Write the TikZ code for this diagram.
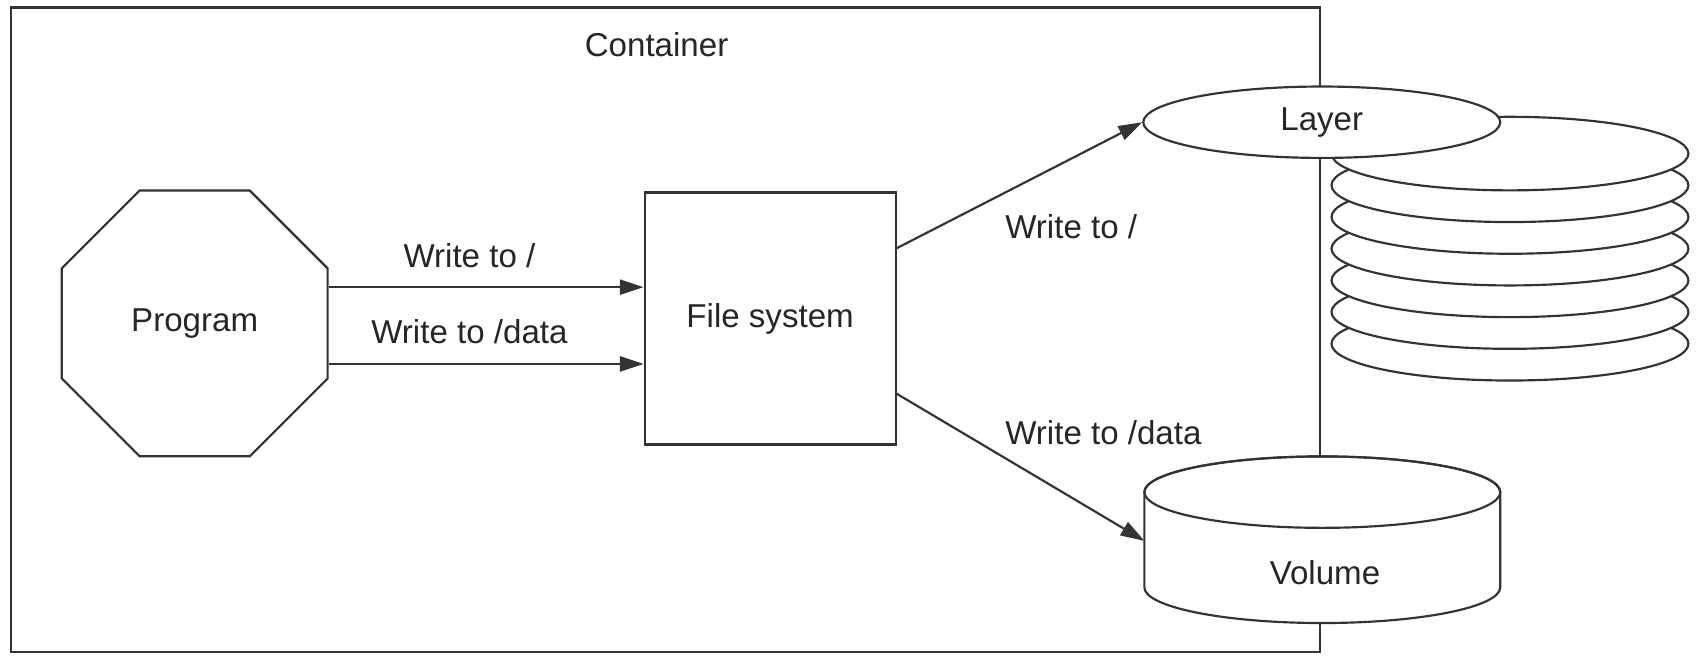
\documentclass[tikz,border=0pt]{standalone}
\usepackage{fontspec}
\setmainfont{Liberation Sans}
\usetikzlibrary{shapes.geometric,arrows.meta}
\begin{document}
\begin{tikzpicture}[x=0.5pt,y=-0.5pt,
  every node/.style={font=\fontsize{15.3}{18}\selectfont, text=black!85},
  line/.style={draw=black!80, line width=1pt},
  arr/.style={line, -{Triangle[length=11pt,width=7pt]}},
  shapebox/.style={line, fill=white, inner sep=0pt}]
\useasboundingbox (0,0) rectangle (1568,609.3);
\fill[white] (0,0) rectangle (1568,609.3);
% container
\draw[line] (10,7) rectangle (1220,603);
\node (cont) at (607,41) {Container};
% program
\node[shapebox, regular polygon, regular polygon sides=8, minimum size=133pt] (prog) at (180,299) {Program};
% file system
\node[shapebox, rectangle, minimum width=116pt, minimum height=116.5pt] (fs) at (712,294.5) {File system};
% layer stack
\foreach \k in {6,5,...,1,0}{
  \draw[line, fill=white] (1396,142+29.3*\k) ellipse [x radius=82.5pt, y radius=17pt];
}
\node[shapebox, ellipse, minimum width=165pt, minimum height=33pt] (layer) at (1222,113) {Layer};
% volume
\draw[line, fill=white] (1058,455) -- (1058,543)
   arc[start angle=180, end angle=360, x radius=82.25pt, y radius=16.5pt]
   -- (1387,455) arc[start angle=0, end angle=180, x radius=82.25pt, y radius=16.5pt] -- cycle;
\draw[line] (1222.5,455) ellipse [x radius=82.25pt, y radius=16.5pt];
\node (vol) at (1225,529) {Volume};
\coordinate (volw) at (1058,500);
% connectors
\coordinate (r1) at (0,265.5);
\coordinate (r2) at (0,336.5);
\coordinate (q1) at (0,229.5);
\coordinate (q2) at (0,364);
\draw[arr] (prog.east |- r1) -- (fs.west |- r1);
\draw[arr] (prog.east |- r2) -- (fs.west |- r2);
\draw[arr] (fs.east |- q1) -- (layer.west);
\draw[arr] (fs.east |- q2) -- (volw);
% labels
\node (l1) at (434,236) {Write to /};
\node (l2) at (434,307) {Write to /data};
\node[anchor=west, inner sep=0pt] (l3) at (929,210) {Write to /};
\node[anchor=west, inner sep=0pt] (l4) at (929,400) {Write to /data};
\end{tikzpicture}
\end{document}
